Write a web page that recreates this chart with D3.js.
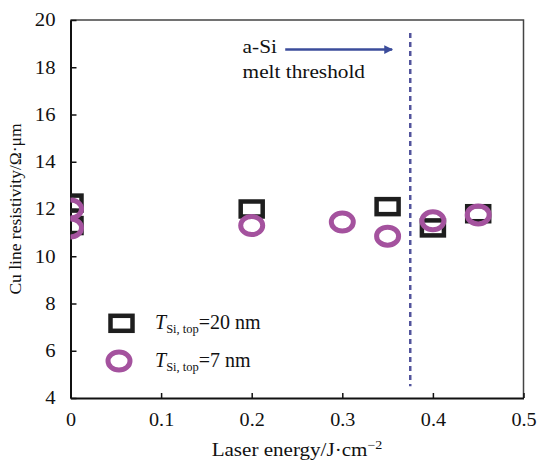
<!DOCTYPE html>
<html>
<head>
<meta charset="utf-8">
<script src="https://cdn.jsdelivr.net/npm/d3@7"></script>
<style>
  body { margin: 0; background: #fff; }
</style>
</head>
<body>
<div id="chart"></div>
<script>
// data
const xTicks = [0, 0.1, 0.2, 0.3, 0.4, 0.5];
const yTicks = [4, 6, 8, 10, 12, 14, 16, 18, 20];

const energy20 = [0, 0, 0.2, 0.35, 0.4, 0.45];
const resist20 = [12.25, 11.3, 12.0, 12.1, 11.2, 11.8];

const energy7 = [0, 0, 0.2, 0.3, 0.35, 0.4, 0.45];
const resist7 = [12.0, 11.2, 11.3, 11.45, 10.85, 11.5, 11.75];

const threshold = 0.375;
const thresholdRange = [4.5, 19.45];

const legendLabels = ["=20 nm", "=7 nm"];

const margin = { top: 20, right: 14.5, bottom: 65, left: 70.5 };
const W = 538, H = 463;
const width = W - margin.left - margin.right;
const height = H - margin.top - margin.bottom;

// the source figure is a bit wider than tall, so text is stretched sideways
function stretch(sel, k) {
    sel.each(function() {
        const len = this.getComputedTextLength();
        d3.select(this).attr("textLength", len * k).attr("lengthAdjust", "spacingAndGlyphs");
    });
}

const svg = d3.select("#chart").append("svg")
    .attr("width", W)
    .attr("height", H);

const g = svg.append("g")
    .attr("transform", `translate(${margin.left},${margin.top})`);

const x = d3.scaleLinear().domain([0, 0.5]).range([0, width]);
const y = d3.scaleLinear().domain([4, 20]).range([height, 0]);

svg.append("defs").append("clipPath").attr("id", "plotClip")
    .append("rect").attr("width", width).attr("height", height);

// top + right frame
g.append("path")
    .attr("d", `M0,0H${width}V${height}`)
    .attr("fill", "none")
    .attr("stroke", "#444")
    .attr("stroke-width", 1.5);

// axes
const xAxis = g.append("g")
    .attr("transform", `translate(0,${height})`)
    .call(d3.axisBottom(x).tickValues(xTicks).tickSizeInner(-5).tickSizeOuter(0)
        .tickPadding(13).tickFormat(d => d === 0 ? "0" : d3.format(".1f")(d)));

const yAxis = g.append("g")
    .call(d3.axisLeft(y).tickValues(yTicks).tickSizeInner(-6).tickSizeOuter(0).tickPadding(15));

[xAxis, yAxis].forEach(a => {
    a.select(".domain").attr("stroke", "#111").attr("stroke-width", 2);
    a.selectAll(".tick line").attr("stroke", "#111").attr("stroke-width", 1.5);
    a.selectAll(".tick text")
        .attr("font-size", 18)
        .attr("fill", "#111");
});
xAxis.selectAll(".tick text").attr("dy", "0.85em");

// threshold line
g.append("line")
    .attr("x1", x(threshold)).attr("x2", x(threshold))
    .attr("y1", y(thresholdRange[1])).attr("y2", y(thresholdRange[0]))
    .attr("stroke", "#52549c")
    .attr("stroke-width", 2.5)
    .attr("stroke-dasharray", "5,4");

// arrow
svg.append("defs").append("marker")
    .attr("id", "arrowHead")
    .attr("viewBox", "0 0 10 10")
    .attr("refX", 9).attr("refY", 5)
    .attr("markerWidth", 4.5).attr("markerHeight", 3.5)
    .attr("markerUnits", "strokeWidth")
    .attr("orient", "auto")
    .append("path").attr("d", "M0,0L10,5L0,10Z").attr("fill", "#3b4c9b");

g.append("line")
    .attr("x1", x(0.237)).attr("x2", x(0.355))
    .attr("y1", y(18.75)).attr("y2", y(18.75))
    .attr("stroke", "#3b4c9b")
    .attr("stroke-width", 2.5)
    .attr("marker-end", "url(#arrowHead)");

const note = g.append("g").attr("class", "note");
note.append("text")
    .attr("x", x(0.19)).attr("y", y(18.6))
    .attr("font-size", 19)
    .text("a-Si");
note.append("text")
    .attr("x", x(0.19)).attr("y", y(17.55))
    .attr("font-size", 19)
    .text("melt threshold");

// markers
const marks = g.append("g").attr("clip-path", "url(#plotClip)");

marks.selectAll(".sq")
    .data(energy20.map((e, i) => ({ e, r: resist20[i] })))
    .join("rect")
    .attr("class", "sq")
    .attr("x", d => x(d.e) - 11)
    .attr("y", d => y(d.r) - 7.5)
    .attr("width", 22)
    .attr("height", 15)
    .attr("fill", "none")
    .attr("stroke", "#1e1e1e")
    .attr("stroke-width", 4.5);

marks.selectAll(".ci")
    .data(energy7.map((e, i) => ({ e, r: resist7[i] })))
    .join("ellipse")
    .attr("class", "ci")
    .attr("cx", d => x(d.e))
    .attr("cy", d => y(d.r))
    .attr("rx", 11)
    .attr("ry", 9)
    .attr("fill", "none")
    .attr("stroke", "#a4529e")
    .attr("stroke-width", 5);

// legend
const leg = g.append("g");
leg.append("rect")
    .attr("x", 51 - 11).attr("y", 303.3 - 7.5)
    .attr("width", 22).attr("height", 15)
    .attr("fill", "none").attr("stroke", "#1e1e1e").attr("stroke-width", 4.5);
leg.append("ellipse")
    .attr("cx", 48.5).attr("cy", 341)
    .attr("rx", 11).attr("ry", 9)
    .attr("fill", "none").attr("stroke", "#a4529e").attr("stroke-width", 5);

legendLabels.forEach((lab, i) => {
    const t = leg.append("text")
        .attr("x", 84.5).attr("y", 309 + i * 38)
        .attr("font-size", 20);
    t.append("tspan").attr("font-style", "italic").text("T");
    t.append("tspan").attr("font-size", 12.5).attr("dy", 4).text("Si, top");
    t.append("tspan").attr("dy", -4).text(lab);
});

// axis titles
const xTitle = svg.append("text")
    .attr("x", margin.left + width / 2)
    .attr("y", 456)
    .attr("text-anchor", "middle")
    .attr("font-size", 18);
xTitle.append("tspan").text("Laser energy/J·cm");
xTitle.append("tspan").attr("font-size", 12).attr("dy", -7).text("−2");

svg.append("text")
    .attr("transform", `translate(21,${margin.top + height / 2}) rotate(-90)`)
    .attr("text-anchor", "middle")
    .attr("font-size", 17.5)
    .text("Cu line resistivity/Ω·μm");

// serif everywhere (inline style so it beats the axis defaults)
svg.selectAll("text")
    .style("font-family", "'Liberation Serif'")
    .style("fill", "#111");

stretch(xAxis.selectAll(".tick text"), 1.12);
stretch(yAxis.selectAll(".tick text"), 1.15);
stretch(note.selectAll("text"), 1.12);
stretch(xTitle, 1.17);
</script>
</body>
</html>
